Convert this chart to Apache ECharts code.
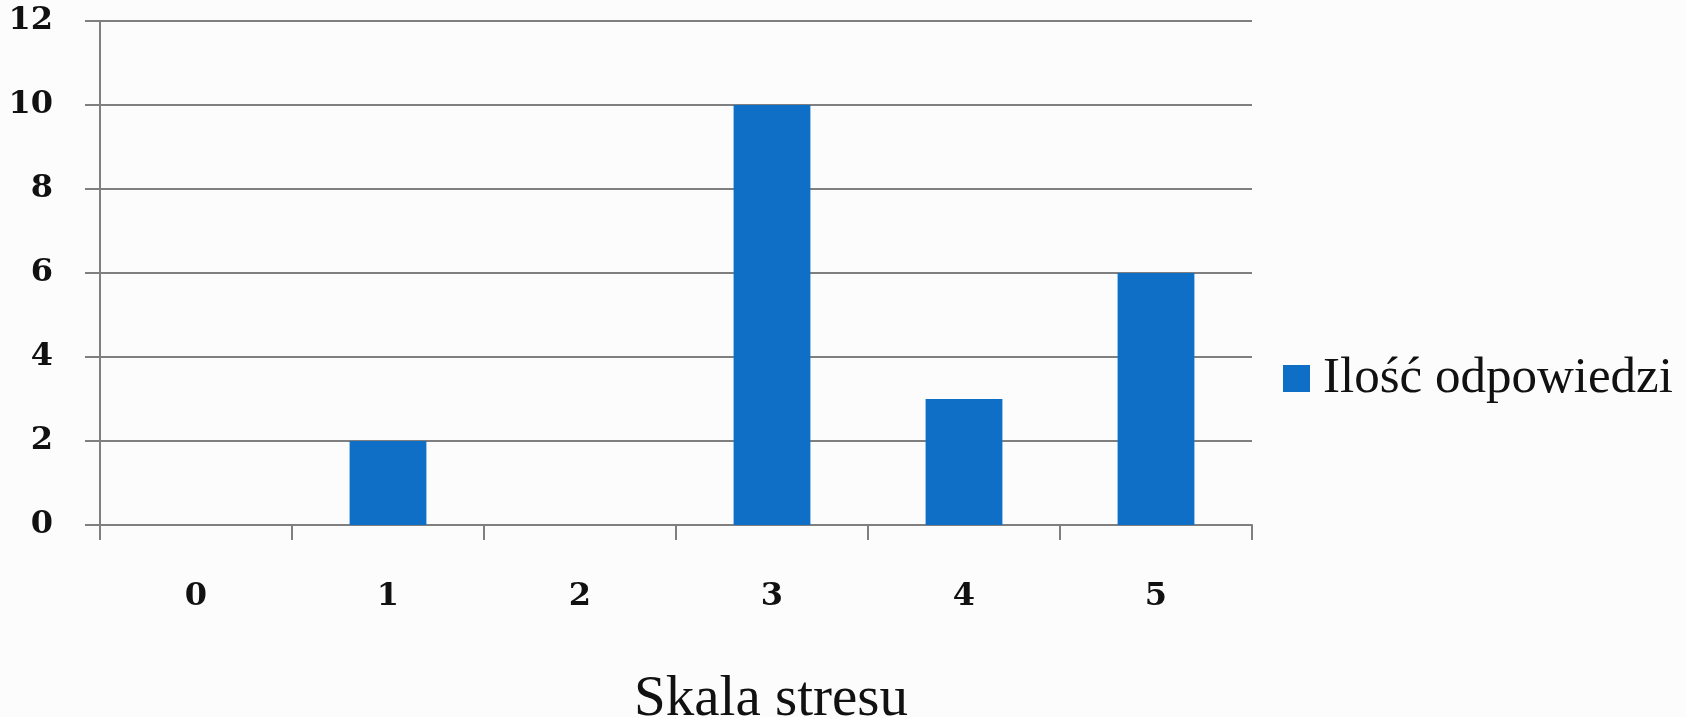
<!DOCTYPE html>
<html>
<head>
<meta charset="utf-8">
<script src="https://cdn.jsdelivr.net/npm/echarts@6/dist/echarts.min.js"></script>
<style>
html,body{margin:0;padding:0;background:#fcfcfc;}
#main{width:1686px;height:717px;}
</style>
</head>
<body>
<div id="main"></div>
<script>
const categories = ['0', '1', '2', '3', '4', '5'];
const seriesName = 'Ilość odpowiedzi';
const values = [0, 2, 0, 10, 3, 6];
const axisTitle = 'Skala stresu';

const chart = echarts.init(document.getElementById('main'));
const fontFam = '"Liberation Serif", serif';
const numFam = '"DejaVu Serif", serif';
chart.setOption({
  backgroundColor: '#fcfcfc',
  animation: false,
  title: {
    text: axisTitle,
    left: 766,
    textAlign: 'center',
    top: 667,
    textStyle: {fontFamily: fontFam, fontSize: 57, fontWeight: 'normal', color: '#111'}
  },
  legend: {
    orient: 'vertical',
    left: 1278,
    top: 348,
    icon: 'rect',
    itemWidth: 27,
    itemHeight: 27,
    textStyle: {fontFamily: fontFam, fontSize: 51, color: '#111', padding: [0, 0, 0, 8]},
    data: [seriesName]
  },
  grid: {left: 100, right: 434, top: 21, bottom: 192, containLabel: false},
  xAxis: {
    type: 'category',
    data: categories,
    boundaryGap: true,
    axisLine: {lineStyle: {color: '#7f7f7f', width: 2}},
    axisTick: {show: true, length: 15, interval: 0, lineStyle: {color: '#7f7f7f', width: 2}},
    axisLabel: {margin: 56, fontFamily: numFam, fontSize: 32, fontWeight: 'bold', color: '#111'}
  },
  yAxis: {
    type: 'value',
    min: 0,
    max: 12,
    interval: 2,
    axisLine: {show: true, lineStyle: {color: '#7f7f7f', width: 2}},
    axisTick: {show: true, length: 15, lineStyle: {color: '#7f7f7f', width: 2}},
    splitLine: {show: true, lineStyle: {color: '#7f7f7f', width: 2}},
    axisLabel: {margin: 47, fontFamily: numFam, fontSize: 32, fontWeight: 'bold', color: '#111'}
  },
  series: [{
    name: seriesName,
    type: 'bar',
    data: values,
    barWidth: '40%',
    itemStyle: {color: '#0f6fc6'}
  }]
});
</script>
</body>
</html>
